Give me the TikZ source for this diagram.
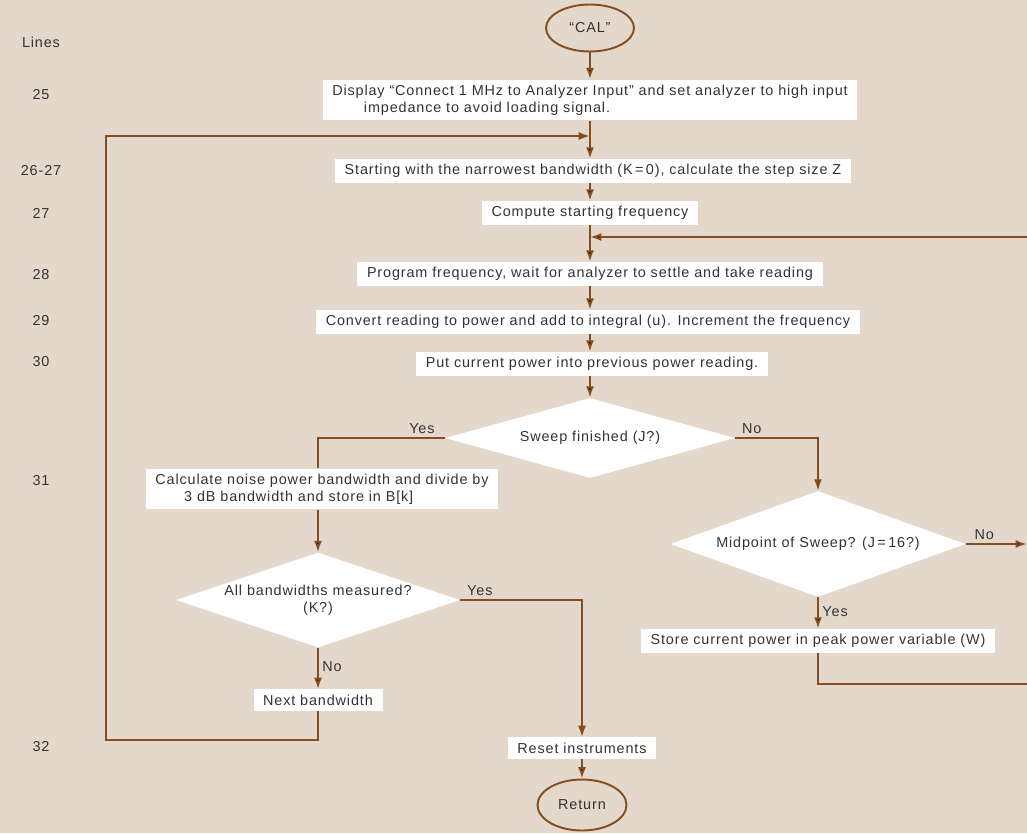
\documentclass[tikz,border=0pt]{standalone}
\usepackage{fontspec}
\setmainfont{Liberation Sans}[LetterSpace=6]
\usepackage{tikz}
\usetikzlibrary{arrows.meta,shapes.geometric,positioning}
\definecolor{paper}{RGB}{228,215,204}
\definecolor{wire}{RGB}{134,78,30}
\definecolor{ink}{RGB}{55,50,50}
\newcommand{\flowsize}{\fontsize{8.2}{9.6}\selectfont}
\tikzset{
    stepbox/.style={
    rectangle,fill=white,inner xsep=5.5pt,inner ysep=3pt,font=\flowsize,text=ink
    },
    decision/.style={
    diamond,aspect=3.2,fill=white,inner sep=0pt,font=\flowsize,text=ink,align=center
    },
    terminal/.style={
    ellipse,draw=wire,line width=1.1pt,font=\flowsize,text=ink,inner sep=0pt
    },
    lineno/.style={
    font=\flowsize,text=ink
    },
    answer/.style={
    font=\flowsize,text=ink,inner sep=2pt
    },
    flow/.style={
    draw=wire,line width=1.1pt
    },
}

\begin{document}
\begin{tikzpicture}[x=0.02cm, y=-0.02cm, >={Latex[length=6.5pt,width=4.6pt]}]
   \fill[paper] (0,0) rectangle (1027,833);
   \useasboundingbox (0,0) rectangle (1027,833);
   % line numbers of the program
   \node[lineno] (ln) at (41,42) {Lines};
   \node[lineno] (l25) at (41,95) {25};
   \node[lineno] (l26) at (41,171) {26-27};
   \node[lineno] (l27) at (41,213) {27};
   \node[lineno] (l28) at (41,275) {28};
   \node[lineno] (l29) at (41,321) {29};
   \node[lineno] (l30) at (41,362) {30};
   \node[lineno] (l31) at (41,481) {31};
   \node[lineno] (l32) at (41,747) {32};
   % main column
   \node[terminal,minimum width=1.76cm,minimum height=0.94cm] (cal) at (590,28) {``CAL''};
   \node[stepbox,align=left] (b1) at (590,100) {Display ``Connect 1 MHz to Analyzer Input'' and set analyzer to high input\\\hspace*{2.2em}impedance to avoid loading signal.};
   \node[stepbox] (b2) at (593,171) {Starting with the narrowest bandwidth (K\,=\,0), calculate the step size Z};
   \node[stepbox] (b3) at (590,213) {Compute starting frequency};
   \node[stepbox] (b4) at (590,274) {Program frequency, wait for analyzer to settle and take reading};
   \node[stepbox] (b5) at (588,322) {Convert reading to power and add to integral (u). Increment the frequency};
   \node[stepbox] (b6) at (592,364) {Put current power into previous power reading.};
   \node[decision,minimum width=5.8cm,minimum height=1.6cm] (sweep) at (590,438) {Sweep finished (J?)};
   % left branch
   \node[stepbox,align=left] (calc) at (322,489) {Calculate noise power bandwidth and divide by\\\hspace*{2em}3 dB bandwidth and store in B[k]};
   \node[decision,minimum width=5.54cm,minimum height=1.9cm] (allbw) at (318,600) {All bandwidths measured?\\(K?)};
   \node[stepbox] (nextbw) at (318,700) {Next bandwidth};
   \node[stepbox] (reset) at (582,748) {Reset instruments};
   \node[terminal,minimum width=1.78cm,minimum height=1.02cm] (ret) at (582,805) {Return};
   % right branch
   \node[decision,minimum width=5.9cm,minimum height=2.12cm] (mid) at (818,544) {Midpoint of Sweep? (J\,=\,16?)};
   \node[stepbox] (store) at (818,641) {Store current power in peak power variable (W)};
   % loop ends
   \coordinate (j1) at (590,136);
   \coordinate (j2) at (590,237);
   \coordinate (lp) at (106,740);
   \coordinate (r1) at (1027,237);
   \coordinate (r2) at (1027,544);
   \coordinate (r3) at (1027,684);

  \path[flow]
    (cal) edge[->] (b1)
    (b1.south -| cal) edge[->] (b2.north -| cal)
    (b2.south -| cal) edge[->] (b3)
    (b3) edge[->] (b4)
    (b4.south -| cal) edge[->] (b5.north -| cal)
    (b5.south -| cal) edge[->] (b6.north -| cal)
    (b6.south -| cal) edge[->] (sweep)
    (calc.south -| allbw) edge[->] (allbw)
    (allbw) edge[->] node[answer,right,pos=0.45] {No} (nextbw)
    (mid) edge[->] node[answer,right,pos=0.45] {Yes} (store)
    (reset) edge[->] (ret)
    (r1) edge[->] (j2)
    (mid) edge[->] node[answer,above,pos=0.3] {No} (r2);
  \draw[flow] (sweep.west) -| node[answer,above,pos=0.09] {Yes} (calc.north -| allbw);
  \draw[flow,->] (sweep.east) -| node[answer,above,pos=0.1] {No} (mid.north);
  \draw[flow,->] (allbw.east) -| node[answer,above,pos=0.08] {Yes} (reset.north);
  \draw[flow,->] (nextbw.south) |- (lp) |- (j1);
  \draw[flow] (store.south) |- (r3);
  \end{tikzpicture}
\end{document}
